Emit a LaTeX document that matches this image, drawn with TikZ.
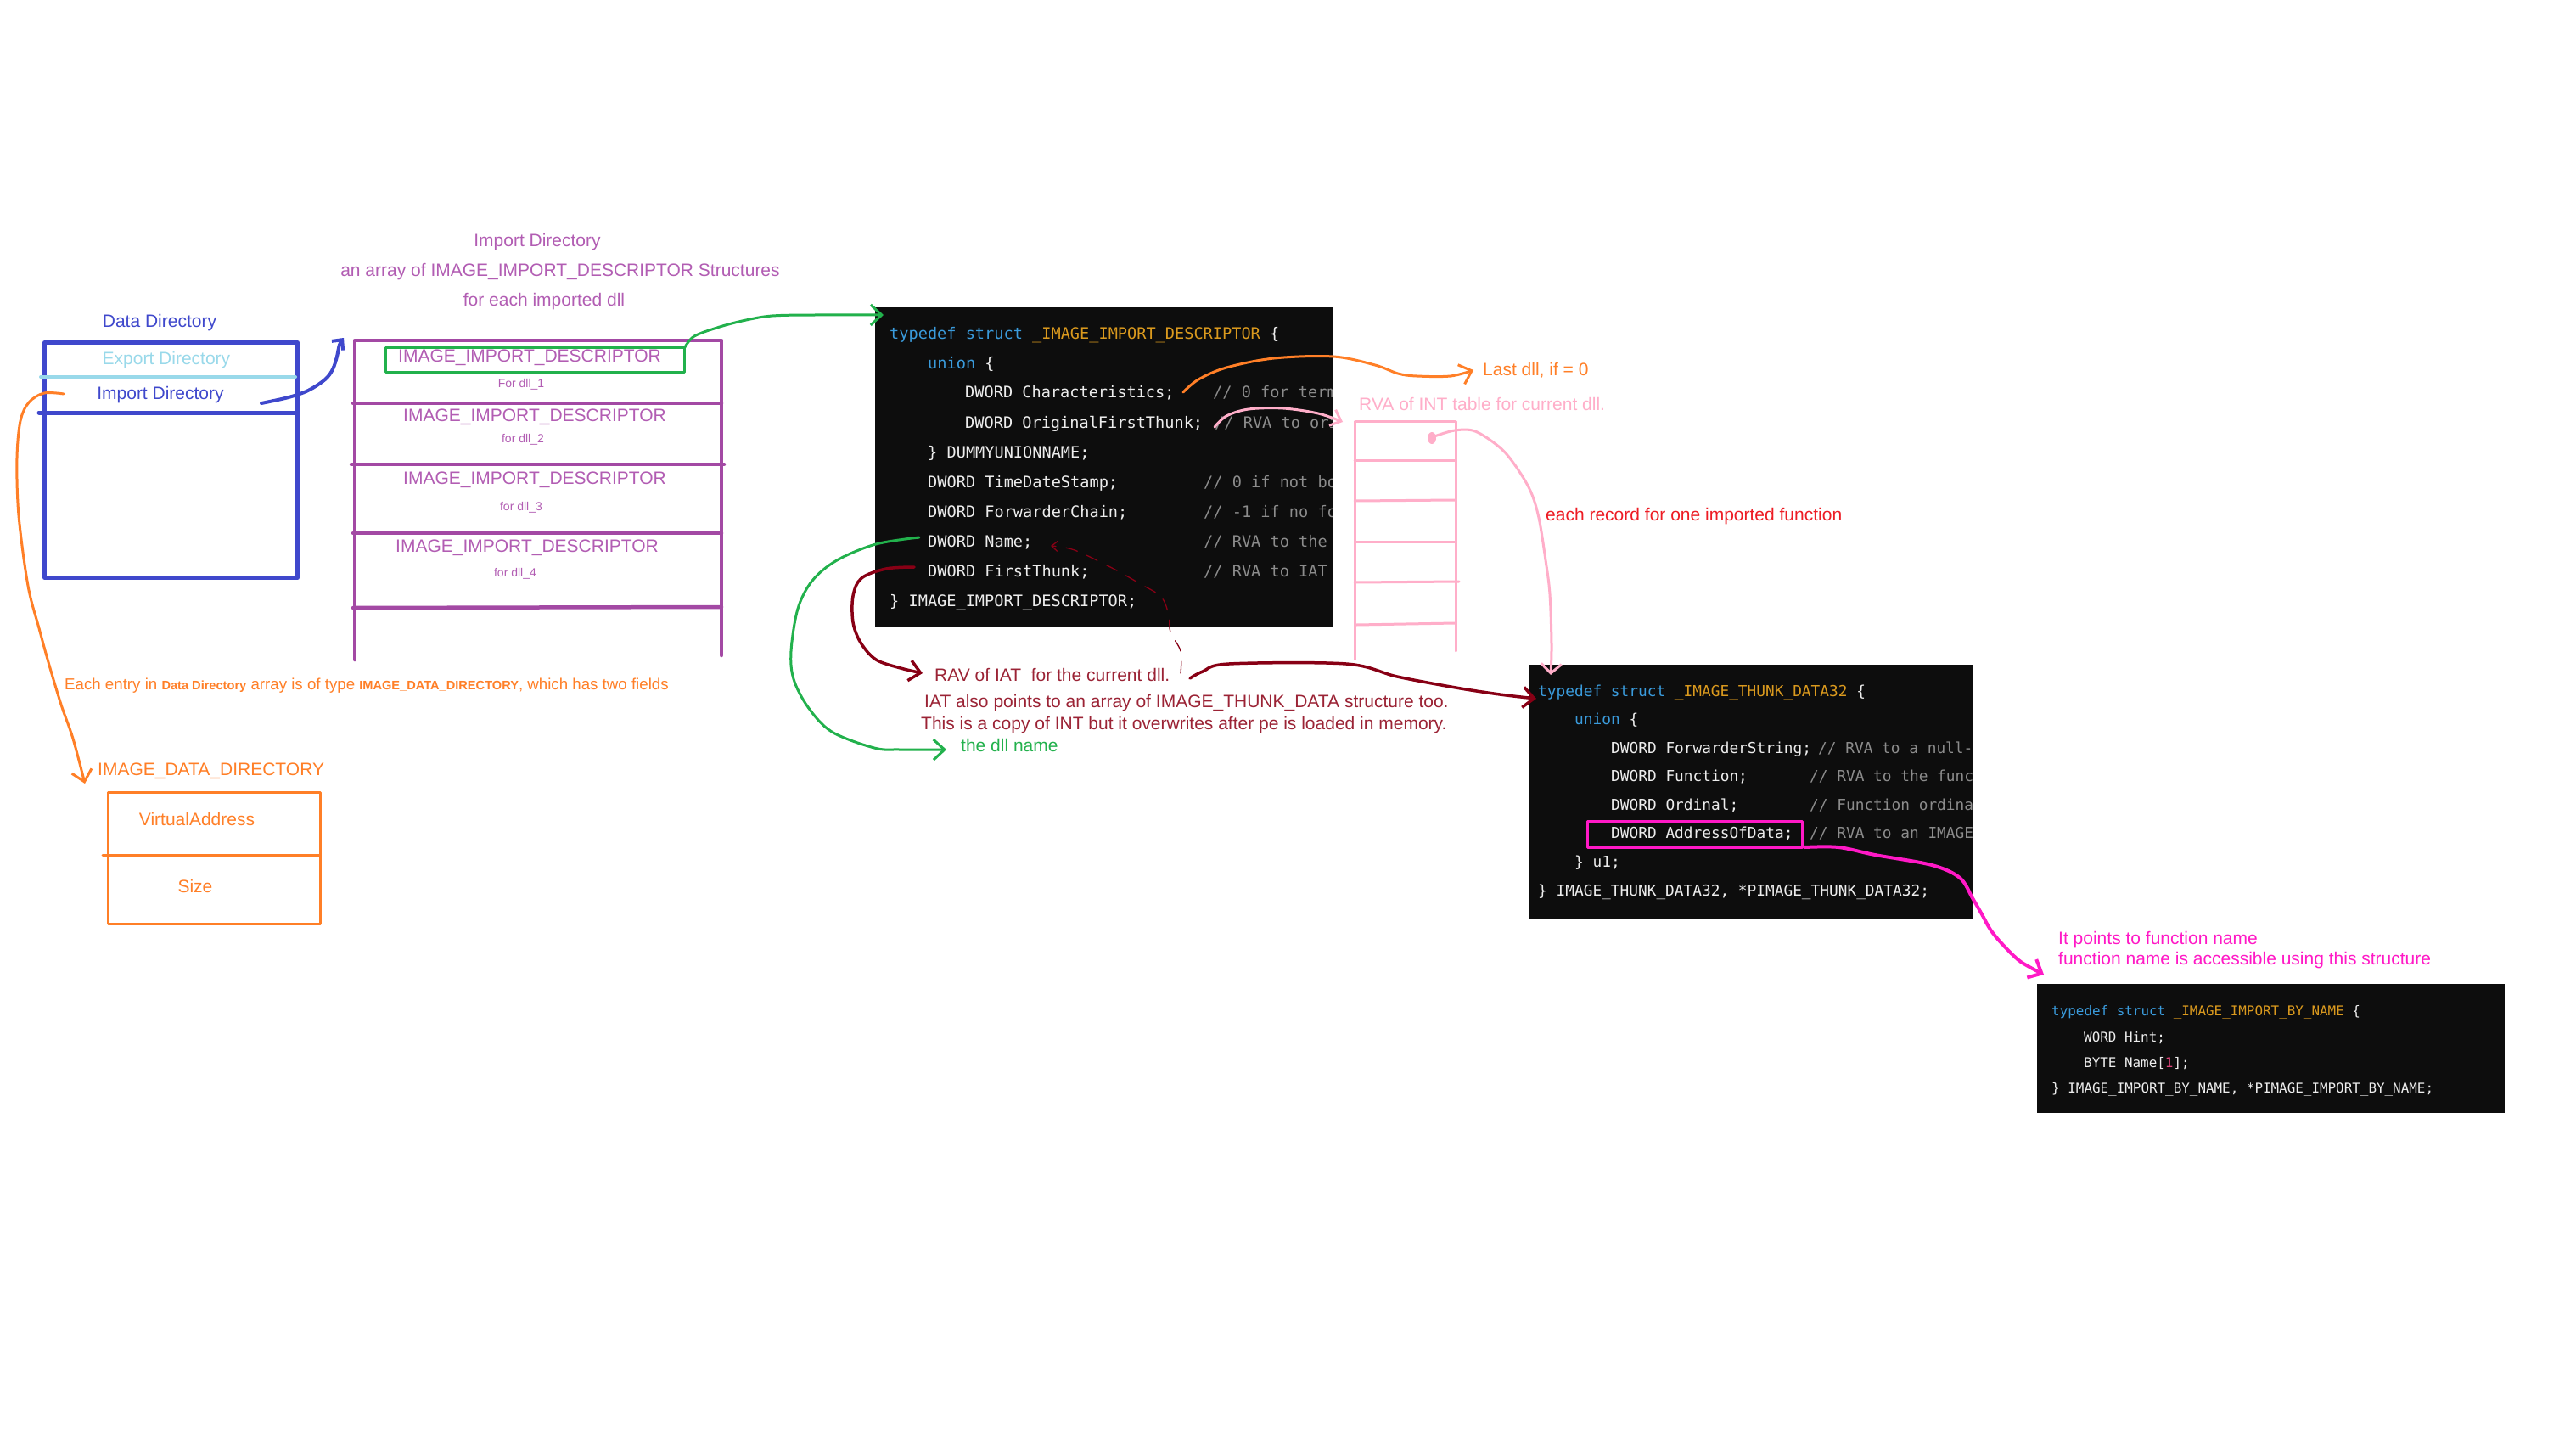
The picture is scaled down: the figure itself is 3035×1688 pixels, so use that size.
\documentclass[tikz,border=0pt]{standalone}
\usepackage{fontspec}
\setmainfont{Liberation Sans}
\newfontfamily\codefont{DejaVu Sans Mono}
\usetikzlibrary{arrows.meta}

\definecolor{ddblue}{HTML}{3F48CC}
\definecolor{ddlight}{HTML}{99D9EA}
\definecolor{idpurple}{HTML}{A349A4}
\definecolor{idpurpletext}{HTML}{B25DB3}
\definecolor{hgreen}{HTML}{22B14C}
\definecolor{horange}{HTML}{FF7F27}
\definecolor{hpink}{HTML}{FFAEC9}
\definecolor{hred}{HTML}{ED1C24}
\definecolor{hdark}{HTML}{880015}
\definecolor{hdarktext}{HTML}{9B2335}
\definecolor{hmag}{HTML}{FF19C6}
\definecolor{codebg}{HTML}{0D0D0D}
\definecolor{codefg}{HTML}{EDEDED}
\definecolor{codekw}{HTML}{3A9BDC}
\definecolor{codety}{HTML}{DB9A1E}
\definecolor{codecm}{HTML}{8C8C8C}
\definecolor{codenum}{HTML}{E0457B}

\newcommand{\ckw}[1]{\textcolor{codekw}{#1}}
\newcommand{\cty}[1]{\textcolor{codety}{#1}}

\begin{document}
\begin{tikzpicture}[x=1pt,y=-1pt,line cap=round,line join=round,
  lbl/.style={inner sep=0pt,font=\fontsize{21}{24}\selectfont,text height=15pt,text depth=4.5pt},
  smalllbl/.style={inner sep=0pt,font=\fontsize{14}{16}\selectfont,text height=10pt,text depth=3pt},
  codeA/.style={inner sep=0pt,anchor=base west,text=codefg,font=\codefont\fontsize{18.6}{20}\selectfont},
  codeB/.style={inner sep=0pt,anchor=base west,text=codefg,font=\codefont\fontsize{17.8}{20}\selectfont},
  codeC/.style={inner sep=0pt,anchor=base west,text=codefg,font=\codefont\fontsize{15.9}{18}\selectfont},
  codebox/.style={fill=codebg,inner sep=0pt,anchor=north west},
  frame/.style={inner sep=0pt,anchor=north west},
  harrow/.style={-{Straight Barb[length=13pt,width=24pt]}},
  stroke/.style={line width=3pt}]

\useasboundingbox[fill=white] (0,0) rectangle (3035,1688);

% ---------------- Data Directory ----------------
\node[lbl,text=ddblue] (ddTitle) at (188,380) {Data Directory};
\node[frame,draw=ddblue,line width=5pt,minimum width=298pt,minimum height=277pt] (ddBox) at (50,401) {};
\draw[ddlight,line width=4pt] (48,444) -- (348,444);
\draw[ddblue,line width=5pt] (46,486) -- (348,486);
\node[lbl,text=ddlight] (ddExport) at (196,424) {Export Directory};
\node[lbl,text=ddblue] (ddImport) at (189,465) {Import Directory};

% ---------------- Import Directory array ----------------
\node[lbl,text=idpurpletext] (idTitle) at (633,285) {Import Directory};
\node[lbl,text=idpurpletext] (idSub) at (660,320) {an array of IMAGE\_IMPORT\_DESCRIPTOR Structures};
\node[lbl,text=idpurpletext] (idSub2) at (641,355) {for each imported dll};

\begin{scope}[idpurple,line width=4.5pt]
  \draw (418,777) -- (418,401) -- (850,401) -- (850,772);
  \draw (416,475) -- (850,475);
  \draw (414,547) -- (853,547);
  \draw (416,628) -- (850,628);
  \draw (416,716) -- (850,715);
\end{scope}
\node[frame,draw=hgreen,line width=3pt,minimum width=352pt,minimum height=29pt] (descOne) at (453,408) {};
\node[lbl,text=idpurpletext] (desc1) at (624,421) {IMAGE\_IMPORT\_DESCRIPTOR};
\node[smalllbl,text=idpurpletext] (dll1) at (614,453) {For dll\_1};
\node[lbl,text=idpurpletext] (desc2) at (630,491) {IMAGE\_IMPORT\_DESCRIPTOR};
\node[smalllbl,text=idpurpletext] (dll2) at (616,518) {for dll\_2};
\node[lbl,text=idpurpletext] (desc3) at (630,565) {IMAGE\_IMPORT\_DESCRIPTOR};
\node[smalllbl,text=idpurpletext] (dll3) at (614,598) {for dll\_3};
\node[lbl,text=idpurpletext] (desc4) at (621,645) {IMAGE\_IMPORT\_DESCRIPTOR};
\node[smalllbl,text=idpurpletext] (dll4) at (607,676) {for dll\_4};

% ---------------- IMAGE_DATA_DIRECTORY ----------------
\node[inner sep=0pt,anchor=west,text=horange,text height=13pt,text depth=4pt] (eachEntry) at (76,808)
  {\fontsize{18.7}{20}\selectfont Each entry in {\bfseries\fontsize{14.6}{16}\selectfont Data Directory} array is of type {\bfseries\fontsize{14.6}{16}\selectfont IMAGE\_DATA\_DIRECTORY}, which has two fields};
\node[lbl,anchor=west,text=horange] (iddTitle) at (115,908) {IMAGE\_DATA\_DIRECTORY};
\node[frame,draw=horange,line width=3pt,minimum width=250pt,minimum height=155pt] (iddBox) at (126,932) {};
\draw[horange,line width=3pt] (121,1007) -- (376,1007);
\node[lbl,text=horange] (iddVA) at (232,967) {VirtualAddress};
\node[lbl,text=horange] (iddSize) at (230,1046) {Size};

% ---------------- IMAGE_IMPORT_DESCRIPTOR code ----------------
\node[codebox,minimum width=539pt,minimum height=376pt] (iidCode) at (1031,362) {};
\node[codeA] (a1) at (1048,399) {\ckw{typedef struct} \cty{\_IMAGE\_IMPORT\_DESCRIPTOR} \{};
\node[codeA] (a2) at (1093,434) {\ckw{union} \{};
\node[codeA] (a3) at (1137,468) {DWORD Characteristics;};
\node[codeA] (a4) at (1137,504) {DWORD OriginalFirstThunk;};
\node[codeA] (a5) at (1093,539) {\} DUMMYUNIONNAME;};
\node[codeA] (a6) at (1093,574) {DWORD TimeDateStamp;};
\node[codeA] (a7) at (1093,609) {DWORD ForwarderChain;};
\node[codeA] (a8) at (1093,644) {DWORD Name;};
\node[codeA] (a9) at (1093,679) {DWORD FirstThunk;};
\node[codeA] (a10) at (1048,714) {\} IMAGE\_IMPORT\_DESCRIPTOR;};
\begin{scope}
  \clip (1031,362) rectangle (1570,738);
  \node[codeA,text=codecm] (ac3) at (1429,468) {// 0 for term};
  \node[codeA,text=codecm] (ac4) at (1431,504) {// RVA to ori};
  \node[codeA,text=codecm] (ac6) at (1418,574) {// 0 if not bo};
  \node[codeA,text=codecm] (ac7) at (1418,609) {// -1 if no fo};
  \node[codeA,text=codecm] (ac8) at (1418,644) {// RVA to the};
  \node[codeA,text=codecm] (ac9) at (1418,679) {// RVA to IAT};
\end{scope}

% ---------------- INT table ----------------
\begin{scope}[hpink,line width=3pt]
  \draw (1596,777) -- (1596,496) -- (1715,496) -- (1715,767);
  \draw (1596,542) -- (1715,542);
  \draw (1596,590) -- (1715,589);
  \draw (1596,638) -- (1715,638);
  \draw (1596,686) -- (1719,685);
  \draw (1598,736) -- (1715,734);
\end{scope}
\fill[hpink] (1687,516) ellipse (5pt and 7pt);
\node[lbl,anchor=west,text=hpink] (intLbl) at (1601,478) {RVA of INT table for current dll.};
\node[lbl,anchor=west,text=horange] (lastLbl) at (1747,437) {Last dll, if = 0};
\node[lbl,anchor=west,text=hred] (recLbl) at (1821,608) {each record for one imported function};

% ---------------- IAT notes ----------------
\node[lbl,anchor=west,text=hdarktext] (iatLbl) at (1101,797) {RAV of IAT\ \ for the current dll.};
\node[lbl,anchor=west,text=hdarktext] (iatNote1) at (1089,828) {IAT also points to an array of IMAGE\_THUNK\_DATA structure too.};
\node[lbl,anchor=west,text=hdarktext] (iatNote2) at (1085,854) {This is a copy of INT but it overwrites after pe is loaded in memory.};
\node[lbl,anchor=west,text=hgreen] (dllName) at (1132,880) {the dll name};

% ---------------- IMAGE_THUNK_DATA32 code ----------------
\node[codebox,minimum width=523pt,minimum height=300pt] (thunkCode) at (1802,783) {};
\node[codeB] (b1) at (1812,820) {\ckw{typedef struct} \cty{\_IMAGE\_THUNK\_DATA32} \{};
\node[codeB] (b2) at (1855,853) {\ckw{union} \{};
\node[codeB] (b3) at (1898,887) {DWORD ForwarderString;};
\node[codeB] (b4) at (1898,920) {DWORD Function;};
\node[codeB] (b5) at (1898,954) {DWORD Ordinal;};
\node[codeB] (b6) at (1898,987) {DWORD AddressOfData;};
\node[codeB] (b7) at (1855,1021) {\} u1;};
\node[codeB] (b8) at (1812,1055) {\} IMAGE\_THUNK\_DATA32, *PIMAGE\_THUNK\_DATA32;};
\begin{scope}
  \clip (1802,783) rectangle (2325,1083);
  \node[codeB,text=codecm] (bc3) at (2142,887) {// RVA to a null-};
  \node[codeB,text=codecm] (bc4) at (2132,920) {// RVA to the func};
  \node[codeB,text=codecm] (bc5) at (2132,954) {// Function ordina};
  \node[codeB,text=codecm] (bc6) at (2132,987) {// RVA to an IMAGE};
\end{scope}
\node[frame,draw=hmag,line width=2.5pt,minimum width=253pt,minimum height=31pt] (aodBox) at (1869,966) {};

% ---------------- IMAGE_IMPORT_BY_NAME code ----------------
\node[lbl,anchor=west,text=hmag] (ptLbl1) at (2425,1107) {It points to function name};
\node[lbl,anchor=west,text=hmag] (ptLbl2) at (2425,1131) {function name is accessible using this structure};
\node[codebox,minimum width=551pt,minimum height=152pt] (ibnCode) at (2400,1159) {};
\node[codeC] (c1) at (2417,1196) {\ckw{typedef struct} \cty{\_IMAGE\_IMPORT\_BY\_NAME} \{};
\node[codeC] (c2) at (2455,1227) {WORD Hint;};
\node[codeC] (c3) at (2455,1257) {BYTE Name[\textcolor{codenum}{1}];};
\node[codeC] (c4) at (2417,1287) {\} IMAGE\_IMPORT\_BY\_NAME, *PIMAGE\_IMPORT\_BY\_NAME;};

% ---------------- connectors ----------------
\coordinate (blueS) at (308,475);
\coordinate (blueE) at (405,398);
\draw[ddblue,line width=4pt,-{Straight Barb[length=9pt,width=17pt]}]
  plot[smooth,tension=0.55] coordinates {(blueS) (340,468) (363,460) (383,447) (392,435) (397,420) (400,406) (blueE)};

\coordinate (orS) at (75,464);
\coordinate (orE) at (100,923);
\draw[horange,stroke,harrow]
  plot[smooth,tension=0.55] coordinates {(orS) (52,463) (34,474) (24,496) (20,540) (22,607) (33,690) (46,740) (57,780) (72,830) (86,870) (orE)};

\coordinate (gS) at (807,409);
\coordinate (gE) at (1041,371);
\draw[hgreen,stroke,harrow]
  plot[smooth,tension=0.55] coordinates {(gS) (818,396) (848,385) (879,377) (910,372) (960,371) (gE)};

\coordinate (oS) at (1394,462);
\coordinate (oE) at (1736,436);
\draw[horange,stroke,harrow]
  plot[smooth,tension=0.55] coordinates {(oS) (1412,447) (1445,433) (1501,422) (1571,420) (1620,430) (1647,440) (1669,443) (1709,443) (oE)};

\coordinate (pS) at (1431,503);
\coordinate (pE) at (1582,497);
\draw[hpink,stroke,-{Straight Barb[length=11pt,width=20pt]}]
  plot[smooth,tension=0.55] coordinates {(pS) (1445,490) (1471,482) (1512,481) (1553,487) (pE)};

\coordinate (dotS) at (1690,514);
\coordinate (dotE) at (1827,795);
\draw[hpink,stroke,-{Straight Barb[length=11pt,width=24pt]}]
  plot[smooth,tension=0.55] coordinates {(dotS) (1714,507) (1738,508) (1767,527) (1785,548) (1803,578) (1813,610) (1821,660) (1826,700) (1828,760) (dotE)};

\coordinate (nS) at (1083,633);
\coordinate (nE) at (1115,883);
\draw[hgreen,stroke,harrow]
  plot[smooth,tension=0.55] coordinates {(nS) (1032,641) (986,660) (957,684) (940,717) (932,767) (935,800) (952,833) (980,862) (1030,881) (1060,883) (nE)};

\coordinate (fS) at (1077,668);
\coordinate (fE) at (1087,793);
\draw[hdark,line width=3.5pt,harrow]
  plot[smooth,tension=0.55] coordinates {(fS) (1044,670) (1015,681) (1005,702) (1005,733) (1014,757) (1032,777) (1061,787) (fE)};

\coordinate (rS) at (1402,799);
\coordinate (rE) at (1810,823);
\draw[hdark,line width=3.5pt,harrow]
  plot[smooth,tension=0.55] coordinates {(rS) (1417,791) (1448,782) (1586,782) (1646,797) (1715,810) (1767,818) (rE)};

\coordinate (tS) at (1391,793);
\coordinate (tE) at (1238,643);
\draw[hdark,line width=1.3pt,dash pattern=on 14pt off 12pt,-{Straight Barb[length=7pt,width=12pt]}]
  plot[smooth,tension=0.55] coordinates {(tS) (1391,767) (1379,745) (1377,725) (1368,703) (1342,687) (1312,670) (1266,648) (tE)};

\coordinate (mS) at (2126,998);
\coordinate (mE) at (2408,1148);
\draw[hmag,line width=4pt,harrow]
  plot[smooth,tension=0.55] coordinates {(mS) (2166,998) (2209,1007) (2276,1019) (2309,1034) (2324,1058) (2335,1077) (2345,1095) (2358,1111) (2377,1130) (2391,1139) (mE)};

\end{tikzpicture}
\end{document}
